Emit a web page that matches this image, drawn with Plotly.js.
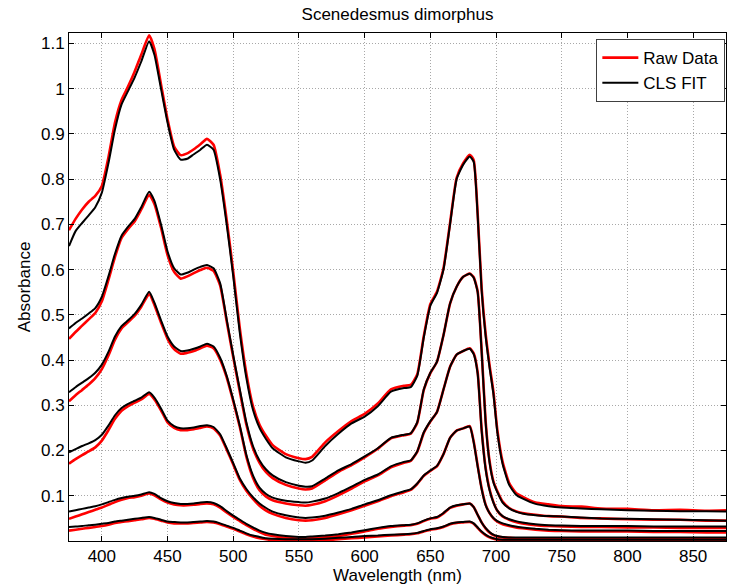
<!DOCTYPE html>
<html>
<head>
<meta charset="utf-8">
<script src="https://cdn.plot.ly/plotly-3.0.1.min.js"></script>
<style>html,body{margin:0;padding:0;background:#fff;}#chart{width:732px;height:587px;}</style>
</head>
<body>
<div id="chart"></div>
<script>
// Wavelength grid (nm)
const wavelength = [375,380,385,390,395,400,405,410,415,420,425,430,436,440,445,450,455,460,465,470,475,480,485,490,495,500,505,510,515,520,525,530,540,550,555,560,570,580,590,600,610,620,630,635,640,645,650,655,660,665,670,675,680,683,686,689,692,695,698,701,705,710,715,720,730,740,750,765,780,800,820,840,860,875];

// CLS fits (black), levels 1..6
const fit1 = [0.031,0.032,0.033,0.035,0.036,0.038,0.040,0.043,0.045,0.047,0.049,0.051,0.053,0.051,0.047,0.043,0.042,0.041,0.041,0.042,0.043,0.044,0.043,0.039,0.034,0.029,0.023,0.017,0.012,0.009,0.006,0.005,0.004,0.004,0.004,0.004,0.005,0.007,0.009,0.011,0.012,0.014,0.015,0.016,0.018,0.022,0.026,0.028,0.032,0.038,0.041,0.042,0.043,0.039,0.030,0.021,0.014,0.009,0.006,0.004,0.003,0.003,0.003,0.003,0.003,0.003,0.003,0.003,0.003,0.003,0.003,0.003,0.003,0.003];
const fit2 = [0.065,0.068,0.071,0.074,0.077,0.081,0.086,0.091,0.095,0.098,0.100,0.103,0.108,0.104,0.095,0.088,0.084,0.082,0.082,0.083,0.085,0.086,0.084,0.077,0.066,0.056,0.047,0.038,0.030,0.023,0.018,0.015,0.011,0.009,0.009,0.010,0.012,0.015,0.019,0.024,0.029,0.033,0.035,0.036,0.039,0.045,0.050,0.053,0.062,0.074,0.079,0.081,0.083,0.075,0.058,0.041,0.029,0.020,0.014,0.011,0.009,0.008,0.008,0.008,0.008,0.008,0.008,0.008,0.008,0.008,0.008,0.008,0.008,0.008];
const fit3 = [0.196,0.203,0.210,0.216,0.223,0.235,0.255,0.278,0.294,0.303,0.310,0.317,0.329,0.317,0.293,0.266,0.254,0.249,0.249,0.251,0.254,0.256,0.252,0.236,0.205,0.172,0.138,0.115,0.097,0.083,0.073,0.065,0.057,0.052,0.051,0.052,0.056,0.063,0.071,0.081,0.090,0.101,0.110,0.114,0.127,0.145,0.156,0.166,0.192,0.228,0.244,0.249,0.253,0.218,0.165,0.115,0.080,0.062,0.051,0.044,0.039,0.035,0.032,0.030,0.027,0.025,0.024,0.023,0.023,0.023,0.022,0.022,0.022,0.022];
const fit4 = [0.329,0.340,0.350,0.360,0.372,0.390,0.418,0.452,0.475,0.488,0.502,0.522,0.551,0.527,0.488,0.452,0.430,0.420,0.421,0.425,0.430,0.436,0.430,0.405,0.365,0.312,0.255,0.190,0.145,0.118,0.104,0.096,0.089,0.086,0.085,0.087,0.094,0.106,0.120,0.135,0.147,0.165,0.175,0.178,0.198,0.240,0.265,0.285,0.335,0.385,0.412,0.420,0.425,0.413,0.370,0.245,0.160,0.113,0.085,0.067,0.055,0.048,0.044,0.041,0.037,0.035,0.034,0.033,0.033,0.033,0.032,0.032,0.032,0.032];
const fit5 = [0.470,0.482,0.492,0.503,0.515,0.540,0.585,0.635,0.675,0.695,0.712,0.738,0.772,0.752,0.700,0.640,0.603,0.589,0.593,0.600,0.606,0.610,0.603,0.570,0.490,0.410,0.335,0.262,0.210,0.178,0.158,0.145,0.130,0.122,0.120,0.121,0.138,0.156,0.170,0.187,0.205,0.228,0.235,0.238,0.262,0.335,0.372,0.396,0.455,0.525,0.562,0.584,0.591,0.582,0.550,0.420,0.265,0.175,0.130,0.108,0.085,0.072,0.065,0.061,0.057,0.055,0.054,0.052,0.050,0.049,0.048,0.047,0.046,0.045];
const fit6 = [0.652,0.685,0.703,0.720,0.738,0.770,0.835,0.910,0.965,0.995,1.025,1.060,1.105,1.075,1.000,0.925,0.865,0.843,0.845,0.855,0.865,0.876,0.865,0.800,0.700,0.585,0.460,0.360,0.290,0.250,0.225,0.205,0.185,0.176,0.173,0.178,0.210,0.237,0.260,0.275,0.298,0.330,0.338,0.340,0.365,0.450,0.520,0.548,0.600,0.700,0.800,0.832,0.850,0.838,0.720,0.555,0.455,0.385,0.325,0.240,0.170,0.124,0.103,0.094,0.082,0.077,0.074,0.072,0.070,0.068,0.067,0.066,0.066,0.065];

// Raw data (red), levels 1..6
const raw1 = [0.023,0.025,0.027,0.029,0.031,0.033,0.036,0.040,0.042,0.044,0.046,0.048,0.051,0.049,0.045,0.041,0.039,0.039,0.039,0.040,0.041,0.042,0.041,0.037,0.032,0.027,0.021,0.015,0.010,0.006,0.004,0.002,0.001,0.001,0.001,0.001,0.002,0.004,0.006,0.008,0.010,0.012,0.014,0.015,0.017,0.021,0.025,0.027,0.031,0.037,0.040,0.041,0.042,0.038,0.029,0.020,0.013,0.008,0.005,0.003,0.002,0.002,0.002,0.002,0.002,0.002,0.002,0.002,0.002,0.002,0.002,0.002,0.002,0.002];
const raw2 = [0.049,0.054,0.059,0.064,0.069,0.074,0.080,0.086,0.091,0.095,0.097,0.100,0.105,0.101,0.092,0.085,0.081,0.079,0.079,0.080,0.082,0.083,0.081,0.074,0.063,0.053,0.044,0.035,0.027,0.020,0.014,0.011,0.007,0.005,0.005,0.006,0.008,0.011,0.016,0.021,0.027,0.031,0.034,0.035,0.038,0.044,0.049,0.052,0.061,0.073,0.078,0.081,0.083,0.075,0.058,0.041,0.028,0.019,0.013,0.010,0.008,0.007,0.006,0.006,0.006,0.006,0.006,0.006,0.006,0.006,0.006,0.006,0.006,0.006];
const raw3 = [0.171,0.181,0.190,0.198,0.207,0.222,0.245,0.270,0.288,0.298,0.306,0.313,0.325,0.313,0.289,0.262,0.250,0.245,0.245,0.247,0.250,0.253,0.249,0.233,0.202,0.169,0.135,0.111,0.093,0.078,0.067,0.060,0.051,0.046,0.045,0.046,0.051,0.059,0.068,0.078,0.088,0.099,0.108,0.113,0.126,0.144,0.155,0.165,0.192,0.228,0.244,0.249,0.254,0.220,0.167,0.117,0.081,0.062,0.050,0.043,0.037,0.033,0.030,0.028,0.025,0.023,0.022,0.021,0.021,0.021,0.020,0.020,0.019,0.019];
const raw4 = [0.309,0.322,0.334,0.346,0.360,0.380,0.410,0.445,0.470,0.484,0.498,0.518,0.546,0.522,0.483,0.447,0.424,0.414,0.416,0.420,0.426,0.432,0.426,0.401,0.362,0.309,0.252,0.186,0.140,0.112,0.098,0.090,0.083,0.079,0.078,0.080,0.088,0.101,0.116,0.132,0.145,0.163,0.173,0.177,0.197,0.239,0.264,0.285,0.335,0.385,0.412,0.420,0.426,0.415,0.373,0.248,0.163,0.115,0.086,0.067,0.054,0.047,0.042,0.039,0.035,0.033,0.032,0.031,0.031,0.030,0.030,0.029,0.029,0.029];
const raw5 = [0.447,0.462,0.476,0.490,0.504,0.530,0.577,0.628,0.670,0.690,0.707,0.733,0.765,0.745,0.693,0.632,0.595,0.580,0.585,0.592,0.599,0.604,0.597,0.565,0.486,0.406,0.330,0.257,0.205,0.173,0.152,0.139,0.124,0.116,0.114,0.116,0.134,0.153,0.168,0.185,0.204,0.227,0.234,0.237,0.261,0.334,0.371,0.396,0.455,0.525,0.562,0.584,0.591,0.583,0.552,0.423,0.268,0.178,0.132,0.110,0.087,0.073,0.066,0.062,0.058,0.055,0.054,0.051,0.050,0.048,0.047,0.047,0.045,0.045];
const raw6 = [0.687,0.712,0.733,0.750,0.763,0.785,0.848,0.925,0.975,1.005,1.038,1.075,1.118,1.088,1.010,0.932,0.872,0.853,0.857,0.866,0.877,0.889,0.876,0.810,0.710,0.595,0.470,0.370,0.298,0.257,0.232,0.212,0.192,0.183,0.181,0.186,0.218,0.243,0.265,0.281,0.304,0.335,0.343,0.345,0.368,0.453,0.524,0.551,0.603,0.703,0.803,0.835,0.854,0.842,0.724,0.560,0.460,0.390,0.330,0.245,0.175,0.128,0.107,0.098,0.085,0.081,0.077,0.076,0.072,0.071,0.068,0.069,0.067,0.068];

const xTicks = [400,450,500,550,600,650,700,750,800,850];
const yTicks = [0.1,0.2,0.3,0.4,0.5,0.6,0.7,0.8,0.9,1,1.1];
const yTickText = ['0.1','0.2','0.3','0.4','0.5','0.6','0.7','0.8','0.9','1','1.1'];

const raws = [raw1, raw2, raw3, raw4, raw5, raw6];
const fits = [fit1, fit2, fit3, fit4, fit5, fit6];

const traces = [];
raws.forEach((r, i) => {
  traces.push({
    x: wavelength, y: r, type: 'scatter', mode: 'lines',
    line: {color: '#ff0000', width: 2.6, shape: 'spline', smoothing: 0.5},
    name: 'Raw Data', legendgroup: 'raw', showlegend: i === 0, hoverinfo: 'skip'
  });
});
fits.forEach((f, i) => {
  traces.push({
    x: wavelength, y: f, type: 'scatter', mode: 'lines',
    line: {color: '#000000', width: 2, shape: 'spline', smoothing: 0.5},
    name: 'CLS FIT', legendgroup: 'fit', showlegend: i === 0, hoverinfo: 'skip'
  });
});

const bad = raws.concat(fits).some(a => a.length !== wavelength.length);

const FONT = '"Liberation Sans", Arial, Helvetica, sans-serif';
const axisCommon = {
  showline: true, linecolor: '#000', linewidth: 1, mirror: 'ticks',
  ticks: 'inside', ticklen: 5, tickcolor: '#000', tickwidth: 1,
  showgrid: true, gridcolor: '#a8a8a8', griddash: '1px,2px', gridwidth: 1,
  zeroline: false, tickfont: {family: FONT, size: 17, color: '#000'}
};

const layout = {
  width: 732, height: 587,
  margin: {l: 69, r: 6, t: 33, b: 46},
  paper_bgcolor: '#fff', plot_bgcolor: '#fff',
  font: {family: FONT, color: '#000'},
  title: {text: 'Scenedesmus dimorphus', font: {family: FONT, size: 17, color: '#000'},
          x: 0.5, xref: 'paper', xanchor: 'center', y: 0.976, yref: 'container', yanchor: 'middle'},
  xaxis: Object.assign({}, axisCommon, {
    range: [375, 875], tickvals: xTicks, ticktext: xTicks.map(String),
    title: {text: 'Wavelength (nm)', font: {family: FONT, size: 17, color: '#000'}, standoff: 2}
  }),
  yaxis: Object.assign({}, axisCommon, {
    range: [0, 1.123], tickvals: yTicks, ticktext: yTickText,
    title: {text: 'Absorbance', font: {family: FONT, size: 17, color: '#000'}, standoff: 6}
  }),
  showlegend: true,
  legend: {
    x: 0.999, xanchor: 'right', y: 0.988, yanchor: 'top',
    bgcolor: '#fff', bordercolor: '#404040', borderwidth: 1,
    font: {family: FONT, size: 17, color: '#000'}, tracegroupgap: 0, itemwidth: 36
  },
  annotations: bad ? [{text: 'LENGTH MISMATCH', x: 0.5, y: 0.5, xref: 'paper', yref: 'paper', showarrow: false, font: {size: 30, color: 'blue'}}] : []
};

Plotly.newPlot('chart', traces, layout, {displayModeBar: false, staticPlot: true});
</script>
</body>
</html>
